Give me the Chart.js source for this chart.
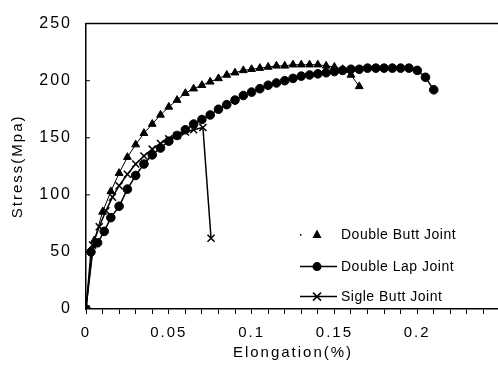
<!DOCTYPE html>
<html>
<head>
<meta charset="utf-8">
<script src="https://cdn.jsdelivr.net/npm/chart.js@4/dist/chart.umd.min.js"></script>
<style>
  html, body { margin: 0; padding: 0; overflow: hidden; background: #fff; }
  #wrap { width: 510px; height: 370px; }
</style>
</head>
<body>
<div id="wrap"><canvas id="graph" width="510" height="370"></canvas></div>
<script>
// values
const seriesNames = ['Double Butt Joint', 'Double Lap Joint', 'Sigle Butt Joint'];
const xTickLabels = [0, 0.05, 0.1, 0.15, 0.2];

const dButtX = [0, 0.005, 0.01, 0.015, 0.02, 0.025, 0.03, 0.035, 0.04, 0.045, 0.05, 0.055, 0.06, 0.065, 0.07, 0.075, 0.08, 0.085, 0.09, 0.095, 0.1, 0.105, 0.11, 0.115, 0.12, 0.125, 0.13, 0.135, 0.14, 0.145, 0.15, 0.155, 0.16, 0.165];
const dButtY = [0, 60, 85, 103, 119, 133, 144, 154, 162, 170, 177, 183, 189, 193, 196, 199, 202, 205, 207, 209, 210, 211, 212, 213, 213, 214, 214, 214, 214, 213, 212, 210, 205, 195];

const dLapX = [0, 0.003, 0.007, 0.011, 0.015, 0.02, 0.025, 0.03, 0.035, 0.04, 0.045, 0.05, 0.055, 0.06, 0.065, 0.07, 0.075, 0.08, 0.085, 0.09, 0.095, 0.1, 0.105, 0.11, 0.115, 0.12, 0.125, 0.13, 0.135, 0.14, 0.145, 0.15, 0.155, 0.16, 0.165, 0.17, 0.175, 0.18, 0.185, 0.19, 0.195, 0.2, 0.205, 0.21];
const dLapY = [0, 50, 58, 68, 80, 90, 105, 117, 127, 135, 141, 147, 152, 157, 162, 166, 170, 175, 179, 183, 187, 190, 193, 196, 198, 200, 202, 204, 205, 206, 207, 208, 209, 210, 210, 211, 211, 211, 211, 211, 211, 209, 203, 192];

const sButtX = [0, 0.004, 0.008, 0.012, 0.016, 0.02, 0.025, 0.03, 0.035, 0.04, 0.045, 0.05, 0.055, 0.06, 0.065, 0.0706, 0.0755];
const sButtY = [0, 56, 72, 86, 98, 108, 118, 127, 134, 140, 145, 149, 152, 155, 157, 159, 62];

function pairs(xs, ys) {
  return xs.map((x, i) => ({ x: x, y: ys[i] }));
}

const FONT = 'Liberation Sans, Arial, sans-serif';

const framePlugin = {
  id: 'frameAndLegend',
  beforeDraw(chart) {
    chart.ctx.letterSpacing = '2px';
  },
  afterDraw(chart) {
    const ctx = chart.ctx;
    const a = chart.chartArea;
    const ys = chart.scales.y;
    ctx.save();
    ctx.letterSpacing = '0px';
    ctx.strokeStyle = '#000';
    ctx.fillStyle = '#000';
    // top frame line
    ctx.lineWidth = 1.5;
    ctx.beginPath();
    ctx.moveTo(a.left, a.top);
    ctx.lineTo(a.right + 5, a.top);
    ctx.stroke();
    // inward y ticks
    ctx.lineWidth = 1;
    [50, 100, 150, 200].forEach(v => {
      const py = ys.getPixelForValue(v);
      ctx.beginPath();
      ctx.moveTo(a.left, py);
      ctx.lineTo(a.left + 4, py);
      ctx.stroke();
    });
    // legend inside plot
    const lx = a.left + 214;
    const rows = [a.top + 211, a.top + 243, a.top + 273];
    ctx.font = '14px ' + FONT;
    ctx.textBaseline = 'middle';
    ctx.textAlign = 'left';
    chart.data.datasets.forEach((ds, i) => {
      const y = rows[i];
      const mx = lx + 17;
      ctx.lineWidth = 1.5;
      if (i === 0) {
        ctx.fillRect(lx, y - 0.5, 1.5, 1.5);
        ctx.beginPath();
        ctx.moveTo(mx, y - 5);
        ctx.lineTo(mx + 4.5, y + 3.5);
        ctx.lineTo(mx - 4.5, y + 3.5);
        ctx.closePath();
        ctx.fill();
      } else {
        ctx.beginPath();
        ctx.moveTo(lx, y);
        ctx.lineTo(lx + 37, y);
        ctx.stroke();
        if (i === 1) {
          ctx.beginPath();
          ctx.arc(mx, y, 4.5, 0, Math.PI * 2);
          ctx.fill();
        } else {
          ctx.beginPath();
          ctx.moveTo(mx - 4, y - 4);
          ctx.lineTo(mx + 4, y + 4);
          ctx.moveTo(mx + 4, y - 4);
          ctx.lineTo(mx - 4, y + 4);
          ctx.stroke();
        }
      }
      ctx.letterSpacing = '0.5px';
      ctx.fillText(ds.label, lx + 41, y + 1);
    });
    ctx.restore();
  }
};

const ctx = document.getElementById('graph');

const chart = new Chart(ctx, {
  type: 'scatter',
  data: {
    datasets: [{
      label: seriesNames[0],
      data: pairs(dButtX, dButtY),
      showLine: true,
      borderColor: '#000',
      backgroundColor: '#000',
      borderWidth: 1,
      pointStyle: 'triangle',
      pointRadius: 4.5,
      pointBorderWidth: 1
    }, {
      label: seriesNames[1],
      data: pairs(dLapX, dLapY),
      showLine: true,
      borderColor: '#000',
      backgroundColor: '#000',
      borderWidth: 1.5,
      pointStyle: 'circle',
      pointRadius: 4.3,
      pointBorderWidth: 1
    }, {
      label: seriesNames[2],
      data: pairs(sButtX, sButtY),
      showLine: true,
      borderColor: '#000',
      backgroundColor: '#000',
      borderWidth: 1.5,
      pointStyle: 'crossRot',
      pointRadius: 5,
      pointBorderWidth: 1.5
    }]
  },
  options: {
    responsive: false,
    animation: false,
    layout: { padding: { top: 17, right: 3, left: 0, bottom: 0 } },
    plugins: {
      legend: { display: false },
      tooltip: { enabled: false }
    },
    scales: {
      x: {
        type: 'linear',
        min: 0,
        max: 0.25,
        afterFit: s => { s.height = 61; },
        afterBuildTicks: s => {
          const t = [];
          for (let i = 0; i <= 25; i++) t.push({ value: i / 100 });
          s.ticks = t;
        },
        ticks: {
          autoSkip: false,
          maxRotation: 0,
          color: '#000',
          font: { family: FONT, size: 15 },
          padding: 10,
          callback: v => {
            const r = Math.round(v * 100) / 100;
            return xTickLabels.includes(r) ? String(r) : '';
          }
        },
        grid: { drawOnChartArea: false, color: '#000', tickLength: 5, tickWidth: 1 },
        border: { color: '#000', width: 1.5 },
        title: {
          display: true,
          text: 'Elongation(%)',
          color: '#000',
          font: { family: FONT, size: 15 },
          padding: { top: 0, bottom: 8 }
        }
      },
      y: {
        min: 0,
        max: 250,
        afterFit: s => { s.width = 86; },
        ticks: {
          stepSize: 50,
          color: '#000',
          font: { family: FONT, size: 16 },
          padding: 14
        },
        grid: { drawOnChartArea: false, drawTicks: false },
        border: { color: '#000', width: 1.5 },
        title: {
          display: true,
          text: 'Stress(Mpa)',
          color: '#000',
          font: { family: FONT, size: 15 },
          padding: { top: 9, bottom: 0 }
        }
      }
    }
  },
  plugins: [framePlugin]
});
</script>
</body>
</html>
